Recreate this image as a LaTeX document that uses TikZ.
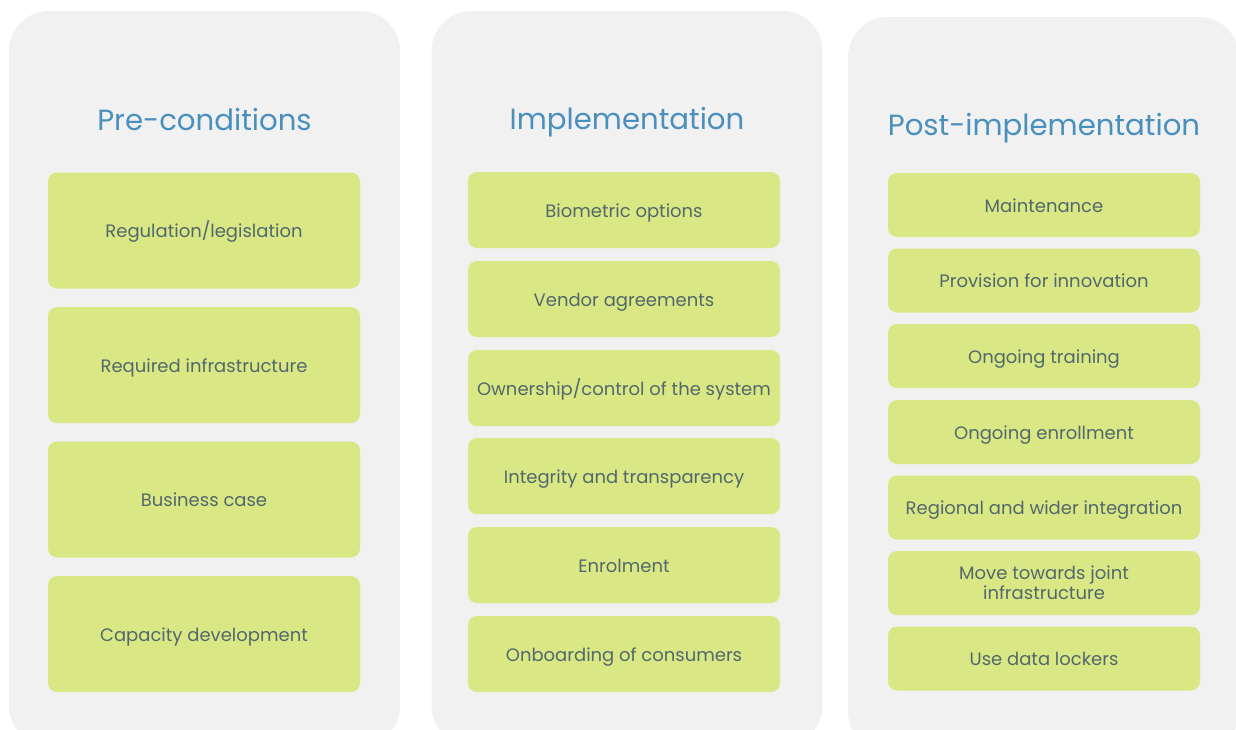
\documentclass[tikz,border=0pt]{standalone}
\usepackage{fontspec}
\setmainfont{Poppins}
\definecolor{panel}{HTML}{F1F1F1}
\definecolor{leaf}{HTML}{D9E884}
\definecolor{head}{HTML}{4A90BE}
\definecolor{ink}{HTML}{52686C}
\begin{document}
\begin{tikzpicture}[x=1pt,y=-1pt,
  panelbox/.style={fill=panel, draw=none, rounded corners=40pt, inner sep=0pt,
    minimum width=391pt, minimum height=735pt},
  item/.style={fill=leaf, draw=none, rounded corners=9pt, text=ink,
    font=\fontsize{18}{20}\selectfont, align=center, inner sep=0pt,
    minimum width=312pt},
  oneline/.style={text height=16pt, text depth=2pt},
  tallitem/.style={item, oneline, minimum height=116pt},
  miditem/.style={item, oneline, minimum height=76pt},
  shortitem/.style={item, oneline, minimum height=64pt},
  twoline/.style={item, minimum height=64pt},
  heading/.style={text=head, font=\fontsize{29.2}{35}\selectfont, inner sep=0pt}]
\useasboundingbox (0,0) rectangle (1236,729);
\begin{scope}
  \clip (0,0) rectangle (1236,729);
  % three column panels (they run past the lower edge)
  \node[panelbox] (panelA) at (204.5,378.5) {};
  \node[panelbox] (panelB) at (627,378.5) {};
  \node[panelbox] (panelC) at (1043.5,384.5) {};
\end{scope}

% column headings
\node[heading] (headA) at (204.5,120) {Pre-conditions};
\node[heading] (headB) at (627,122) {Implementation};
\node[heading] (headC) at (1044,128) {Post-implementation};

% pre-conditions
\node[tallitem] (a1) at (204,230.5) {Regulation/legislation};
\node[tallitem] (a2) at (204,365) {Required infrastructure};
\node[tallitem] (a3) at (204,499.5) {Business case};
\node[tallitem] (a4) at (204,634) {Capacity development};

% implementation
\node[miditem] (b1) at (624,210) {Biometric options};
\node[miditem] (b2) at (624,299) {Vendor agreements};
\node[miditem] (b3) at (624,388) {Ownership/control of the system};
\node[miditem] (b4) at (624,476) {Integrity and transparency};
\node[miditem] (b5) at (624,565) {Enrolment};
\node[miditem] (b6) at (624,654) {Onboarding of consumers};

% post-implementation
\node[shortitem] (c1) at (1044,205) {Maintenance};
\node[shortitem] (c2) at (1044,280.5) {Provision for innovation};
\node[shortitem] (c3) at (1044,356) {Ongoing training};
\node[shortitem] (c4) at (1044,432) {Ongoing enrollment};
\node[shortitem] (c5) at (1044,507.5) {Regional and wider integration};
\node[twoline] (c6) at (1044,583) {Move towards joint\\infrastructure};
\node[shortitem] (c7) at (1044,658.5) {Use data lockers};
\end{tikzpicture}
\end{document}
